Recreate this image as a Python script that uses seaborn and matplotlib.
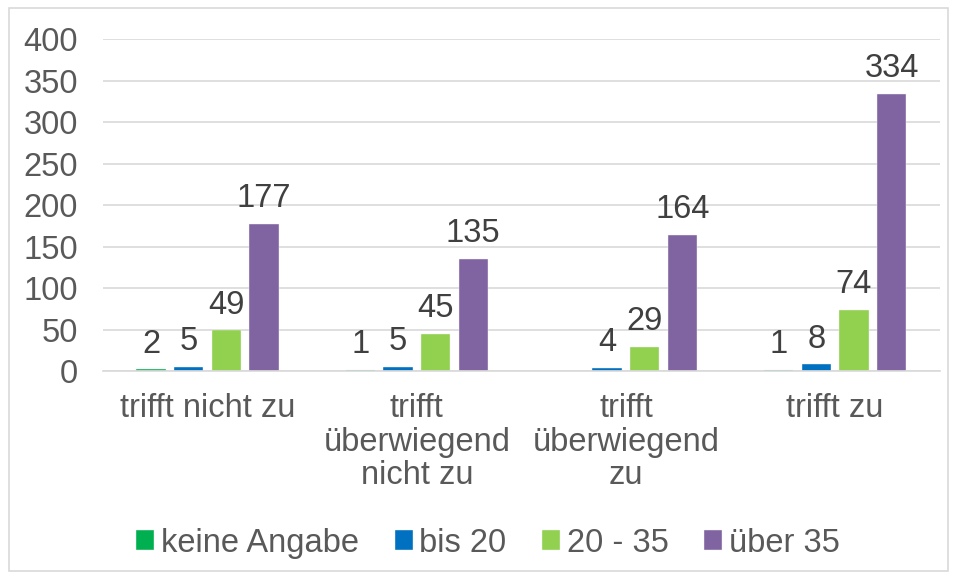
import pandas as pd
import matplotlib.pyplot as plt
import seaborn as sns
from matplotlib.patches import Rectangle

categories = ["trifft nicht zu", "trifft\nüberwiegend\nnicht zu", "trifft\nüberwiegend\nzu", "trifft zu"]
series = ["keine Angabe", "bis 20", "20 - 35", "über 35"]
keine_angabe = [2, 1, None, 1]
bis_20 = [5, 5, 4, 8]
von_20_35 = [49, 45, 29, 74]
ueber_35 = [177, 135, 164, 334]
colors = ["#00B050", "#0070C0", "#92D050", "#8064A2"]

rows = []
for name, vals in zip(series, [keine_angabe, bis_20, von_20_35, ueber_35]):
    for cat, v in zip(categories, vals):
        rows.append({"Kategorie": cat, "Gruppe": name, "Wert": v})
df = pd.DataFrame(rows)

sns.set_style("white")
plt.rcParams['font.family'] = ['Liberation Sans', 'DejaVu Sans']
text_color = "#595959"
fs = 23.5

fig = plt.figure(figsize=(9.57, 5.79), dpi=100)
ax = fig.add_axes([0.1076, 0.3592, 0.8744, 0.5734])

sns.barplot(data=df, x="Kategorie", y="Wert", hue="Gruppe", order=categories,
            hue_order=series, palette=colors, saturation=1, width=0.72, gap=0.22,
            edgecolor="#F2F2F2", linewidth=0.3, ax=ax)

# data labels on every drawn bar
for container in ax.containers:
    for bar in container:
        if bar is None:
            continue
        h = bar.get_height()
        if pd.isna(h):
            continue
        ax.annotate(f"{int(round(h))}", (bar.get_x() + bar.get_width() / 2, h),
                    xytext=(0, 7), textcoords="offset points", ha="center",
                    va="bottom", fontsize=fs, color="#404040")

ax.set_ylim(0, 400)
ax.set_yticks(range(0, 401, 50))
ax.yaxis.grid(True, color="#D9D9D9", linewidth=1.2)
ax.set_axisbelow(True)
ax.set_xlabel("")
ax.set_ylabel("")
for s in ["top", "right", "left"]:
    ax.spines[s].set_visible(False)
ax.spines["bottom"].set_color("#D9D9D9")
ax.spines["bottom"].set_linewidth(1.2)
ax.tick_params(axis="y", length=0, pad=18, labelsize=fs, labelcolor=text_color)
ax.tick_params(axis="x", length=0, pad=16, labelsize=fs, labelcolor=text_color)
for lbl in ax.get_xticklabels():
    lbl.set_linespacing(1.1)

ax.legend_.remove()
handles, labels = ax.get_legend_handles_labels()
fig.legend(handles, labels, loc="center", bbox_to_anchor=(0.51, 0.062), ncol=4,
           frameon=False, fontsize=fs, labelcolor=text_color, handlelength=0.55,
           handleheight=0.55, handletextpad=0.2, columnspacing=1.1)

# chart border
fig.patches.append(Rectangle((0.009, 0.014), 0.982, 0.972, transform=fig.transFigure,
                             fill=False, edgecolor="#D9D9D9", linewidth=1.2))

fig.savefig("out.png", dpi=100)
